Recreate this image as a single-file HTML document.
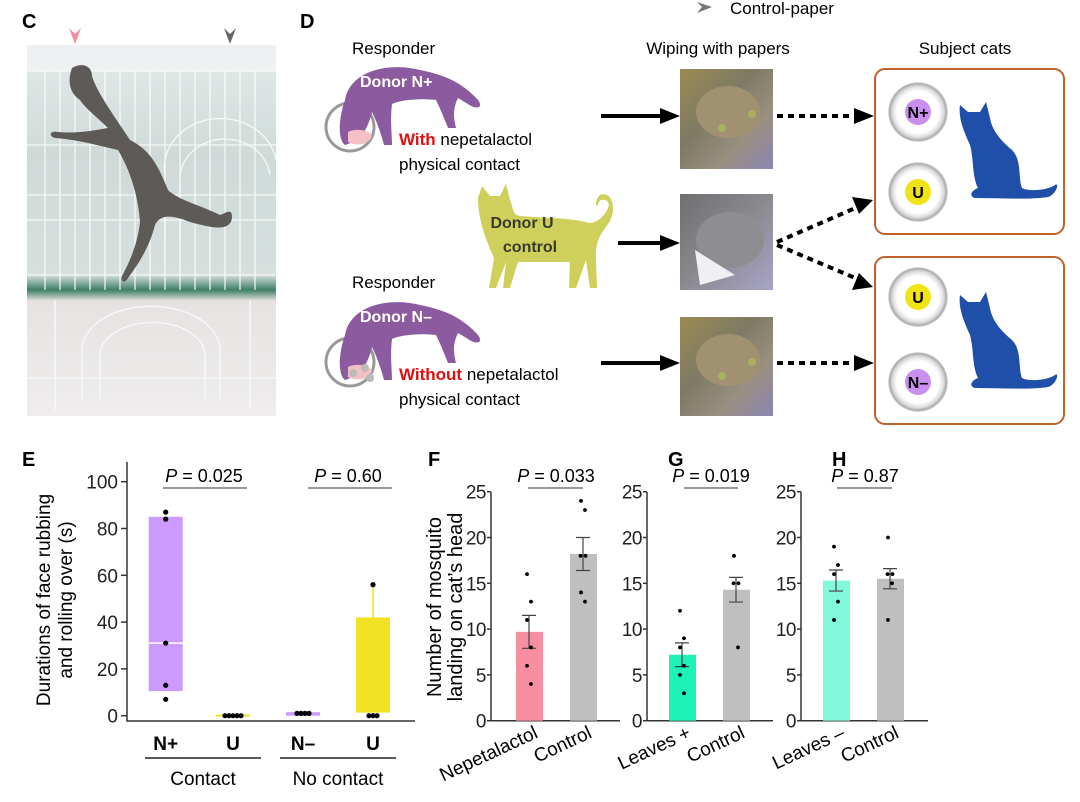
<!DOCTYPE html>
<html><head><meta charset="utf-8">
<style>
body{margin:0;background:#fff;}
svg{display:block;font-family:"Liberation Sans",Arial,sans-serif;}
</style></head>
<body>
<svg id="fig" width="1080" height="802" viewBox="0 0 1080 802" xmlns="http://www.w3.org/2000/svg">
<defs>
<linearGradient id="cageg" x1="0" y1="0" x2="0" y2="1">
<stop offset="0" stop-color="#e4ebea"/><stop offset="0.3" stop-color="#cfdad8"/><stop offset="0.62" stop-color="#d6dfdd"/><stop offset="0.66" stop-color="#3f7e66"/><stop offset="0.69" stop-color="#e6e2e2"/><stop offset="1" stop-color="#efeded"/>
</linearGradient>
<radialGradient id="dish"><stop offset="0.7" stop-color="#fff"/><stop offset="0.85" stop-color="#ddd"/><stop offset="0.95" stop-color="#aaa"/><stop offset="1" stop-color="#eee"/></radialGradient>
<linearGradient id="photoA" x1="0" y1="0" x2="1" y2="1"><stop offset="0" stop-color="#9c8a52"/><stop offset="0.4" stop-color="#7d7a64"/><stop offset="0.7" stop-color="#9a8f80"/><stop offset="1" stop-color="#8a86b8"/></linearGradient>
<linearGradient id="photoB" x1="0" y1="0" x2="1" y2="1"><stop offset="0" stop-color="#6f6f72"/><stop offset="0.5" stop-color="#8a8a8e"/><stop offset="1" stop-color="#a8a4c8"/></linearGradient>
</defs>

<!-- Panel C -->
<text x="22" y="28" font-size="20" font-weight="bold">C</text>
<g>
<rect x="27" y="45" width="249" height="371" fill="url(#cageg)"/>
<rect x="27" y="45" width="249" height="26" fill="#eef1f1"/>
<g stroke="#fbfbfb" stroke-width="1.3" opacity="0.9">
<line x1="27" y1="71" x2="276" y2="71"/><line x1="27" y1="145" x2="276" y2="145"/><line x1="27" y1="195" x2="276" y2="195"/><line x1="27" y1="220" x2="276" y2="220"/><line x1="27" y1="275" x2="276" y2="275"/><line x1="27" y1="378" x2="276" y2="378"/>
<line x1="45" y1="71" x2="45" y2="290"/><line x1="60" y1="71" x2="60" y2="290"/><line x1="75" y1="71" x2="75" y2="290"/><line x1="90" y1="71" x2="90" y2="290"/><line x1="105" y1="71" x2="105" y2="290"/><line x1="120" y1="71" x2="120" y2="290"/><line x1="135" y1="71" x2="135" y2="290"/><line x1="150" y1="71" x2="150" y2="290"/><line x1="165" y1="71" x2="165" y2="290"/><line x1="180" y1="71" x2="180" y2="290"/><line x1="195" y1="71" x2="195" y2="290"/><line x1="210" y1="71" x2="210" y2="290"/><line x1="225" y1="71" x2="225" y2="290"/><line x1="240" y1="71" x2="240" y2="290"/><line x1="255" y1="71" x2="255" y2="290"/>
<path d="M165 270 V175 A55 48 0 0 1 276 160" fill="none"/><path d="M180 270 V185 A42 38 0 0 1 270 175" fill="none"/>
<path d="M82 400 V350 A60 38 0 0 1 220 350 V400" fill="none"/><path d="M100 400 V355 A42 26 0 0 1 205 355 V400" fill="none"/>
<line x1="55" y1="300" x2="55" y2="410"/><line x1="250" y1="300" x2="250" y2="410"/>
</g>
<path d="M72 68 C82 62 92 66 92 76 C96 90 110 110 130 140 C150 150 158 165 168 190 C178 200 200 205 220 215 C228 212 232 208 232 218 C230 232 212 228 190 222 C170 214 160 215 155 225 C150 245 140 262 128 278 C125 284 120 282 122 276 C132 258 138 240 140 222 C138 195 130 170 118 150 C100 146 80 140 55 138 C48 136 50 130 58 132 C78 134 96 130 108 128 C98 118 85 108 80 100 C72 95 66 84 72 68 Z" fill="#5e5a58"/>
<path d="M69 8 L75 14 L81 8 L75 24 Z" transform="translate(0,20)" fill="#f58b98"/>
<path d="M224 8 L230 14 L236 8 L230 24 Z" transform="translate(0,20)" fill="#666"/>
</g>

<!-- Panel D -->
<text x="300" y="28" font-size="20" font-weight="bold">D</text>
<path d="M697 2 L712 7 L697 13 L702 7 Z" fill="#777"/>
<text x="730" y="14" font-size="17">Control-paper</text>
<text x="352" y="54" font-size="17">Responder</text>
<text x="718" y="54" font-size="17" text-anchor="middle">Wiping with papers</text>
<text x="965" y="54" font-size="17" text-anchor="middle">Subject cats</text>

<g>
<circle cx="350" cy="127" r="24" fill="#fff" stroke="#999" stroke-width="3"/>
<path d="M345 100 C350 70 390 62 420 70 C440 74 460 80 478 100 C484 108 476 110 468 104 L458 98 C452 110 454 120 456 128 L448 128 C444 118 440 108 436 100 C420 98 400 100 392 104 C390 120 392 135 392 145 L384 145 C380 130 376 120 372 112 C368 128 362 140 345 145 C338 140 338 120 345 100 Z" fill="#8c5a9e"/>
<path d="M348 132 C355 128 370 130 372 136 C368 146 355 146 348 142 Z" fill="#f4c0c8"/>
<text x="360" y="87" font-size="16" font-weight="bold" fill="#fff">Donor N+</text>
</g>
<text x="399" y="145" font-size="17"><tspan fill="#e01010" font-weight="bold">With</tspan> nepetalactol</text>
<text x="399" y="170" font-size="17">physical contact</text>

<g>
<path d="M478 198 L482 186 L490 196 L500 196 L506 184 L510 200 C514 210 512 214 520 216 C545 218 570 218 585 222 C596 226 605 215 608 208 C612 200 600 196 598 204 C596 210 594 200 600 195 C612 190 618 210 608 224 C600 236 595 240 596 262 L597 288 L590 288 L586 260 L576 288 L569 288 L570 262 C555 262 530 262 518 262 L510 288 L503 288 L506 262 L496 288 L489 288 L494 258 C486 240 478 220 478 198 Z" fill="#cfcf5c"/>
<text x="522" y="228" font-size="16" font-weight="bold" fill="#3a3a2a" text-anchor="middle">Donor U</text>
<text x="530" y="252" font-size="16" font-weight="bold" fill="#3a3a2a" text-anchor="middle">control</text>
</g>
<text x="352" y="288" font-size="17">Responder</text>
<g transform="translate(0,235)">
<circle cx="350" cy="127" r="24" fill="#fff" stroke="#999" stroke-width="3"/>
<path d="M345 100 C350 70 390 62 420 70 C440 74 460 80 478 100 C484 108 476 110 468 104 L458 98 C452 110 454 120 456 128 L448 128 C444 118 440 108 436 100 C420 98 400 100 392 104 C390 120 392 135 392 145 L384 145 C380 130 376 120 372 112 C368 128 362 140 345 145 C338 140 338 120 345 100 Z" fill="#8c5a9e"/>
<path d="M348 132 C355 128 370 130 372 136 C368 146 355 146 348 142 Z" fill="#f4c0c8"/>
<circle cx="353" cy="138" r="4" fill="#bbb"/><circle cx="365" cy="133" r="4" fill="#bbb"/><circle cx="370" cy="143" r="4" fill="#bbb"/>
<text x="360" y="87" font-size="16" font-weight="bold" fill="#fff">Donor N–</text>
</g>
<text x="399" y="380" font-size="17"><tspan fill="#e01010" font-weight="bold">Without</tspan> nepetalactol</text>
<text x="399" y="405" font-size="17">physical contact</text>

<g fill="#000">
<rect x="601" y="114" width="62" height="4"/><path d="M660 108 L680 116 L660 124 Z"/>
<rect x="618" y="241" width="45" height="4"/><path d="M660 235 L680 243 L660 251 Z"/>
<rect x="601" y="361" width="62" height="4"/><path d="M660 355 L680 363 L660 371 Z"/>
</g>
<g>
<rect x="680" y="69" width="93" height="100" fill="url(#photoA)"/>
<ellipse cx="728" cy="112" rx="32" ry="26" fill="#a09270"/><circle cx="722" cy="128" r="4" fill="#a8b060"/><circle cx="752" cy="114" r="4" fill="#a8b060"/>
<rect x="680" y="194" width="93" height="96" fill="url(#photoB)"/>
<ellipse cx="730" cy="240" rx="34" ry="28" fill="#8e8e92"/><path d="M695 250 L735 275 L700 285 Z" fill="#f0f0f4"/>
<rect x="680" y="317" width="93" height="99" fill="url(#photoA)"/>
<ellipse cx="728" cy="360" rx="32" ry="26" fill="#a09270"/><circle cx="722" cy="376" r="4" fill="#a8b060"/><circle cx="752" cy="362" r="4" fill="#a8b060"/>
</g>
<g stroke="#000" stroke-width="4" stroke-dasharray="6 5" fill="none">
<line x1="777" y1="116" x2="858" y2="116"/><line x1="777" y1="242" x2="860" y2="206"/><line x1="777" y1="245" x2="860" y2="280"/><line x1="777" y1="363" x2="858" y2="363"/>
</g>
<g fill="#000">
<path d="M854 108 L874 116 L854 124 Z"/><path d="M852 197 L873 200 L859 214 Z"/><path d="M852 290 L873 287 L859 273 Z"/><path d="M854 355 L874 363 L854 371 Z"/>
</g>
<g>
<rect x="875" y="69" width="189" height="165" rx="10" fill="#fff" stroke="#c0622a" stroke-width="2"/>
<circle cx="918" cy="112" r="30" fill="url(#dish)"/><circle cx="918" cy="112" r="13" fill="#c88ef0"/><text x="918" y="118" font-size="16" font-weight="bold" text-anchor="middle">N+</text>
<circle cx="918" cy="192" r="30" fill="url(#dish)"/><circle cx="918" cy="192" r="13" fill="#f0e418"/><text x="918" y="198" font-size="16" font-weight="bold" text-anchor="middle">U</text>
<path d="M960 105 L968 112 L980 112 L986 102 L990 118 C992 130 1000 140 1012 150 C1022 160 1018 178 1022 188 C1030 192 1048 190 1055 185 C1060 182 1056 195 1048 197 C1030 200 1000 198 975 198 C968 196 972 190 978 188 C972 176 974 160 970 145 C964 132 958 118 960 105 Z" fill="#1f4fa8"/>
</g>
<g>
<rect x="875" y="257" width="189" height="167" rx="10" fill="#fff" stroke="#c0622a" stroke-width="2"/>
<circle cx="918" cy="297" r="30" fill="url(#dish)"/><circle cx="918" cy="297" r="13" fill="#f0e418"/><text x="918" y="303" font-size="16" font-weight="bold" text-anchor="middle">U</text>
<circle cx="918" cy="382" r="30" fill="url(#dish)"/><circle cx="918" cy="382" r="13" fill="#c88ef0"/><text x="918" y="388" font-size="16" font-weight="bold" text-anchor="middle">N–</text>
<path d="M960 295 L968 302 L980 302 L986 292 L990 308 C992 320 1000 330 1012 340 C1022 350 1018 368 1022 378 C1030 382 1048 380 1055 375 C1060 372 1056 385 1048 387 C1030 390 1000 388 975 388 C968 386 972 380 978 378 C972 366 974 350 970 335 C964 322 958 308 960 295 Z" fill="#1f4fa8"/>
</g>

<g id="charts"></g>
</svg>

<script>
// ---- Panel E data ----
const eCategories = ["N+", "U", "N–", "U"];
const eQ1 = [10.5, 0, 0, 1];
const eMedian = [31, 0, 0.5, 1];
const eQ3 = [85, 0.5, 1.5, 42];
const eWhiskerHigh = [85, 0.5, 1.5, 56];
const ePoints = [[87, 84, 31, 13, 7], [0, 0, 0, 0, 0], [1, 1, 1, 1], [0, 0, 0, 56]];
const eTicks = [0, 20, 40, 60, 80, 100];
const eColors = ["#cc99ff", "#f2e224", "#cc99ff", "#f2e224"];

// ---- Panels F/G/H data ----
const fCategories = ["Nepetalactol", "Control"];
const fMeans = [9.7, 18.2];
const fSem = [1.8, 1.8];
const fPoints = [[16, 13, 11, 8, 6, 4], [24, 23, 18, 18, 14, 13]];
const gCategories = ["Leaves +", "Control"];
const gMeans = [7.2, 14.3];
const gSem = [1.3, 1.35];
const gPoints = [[12, 9, 8, 6, 5, 3], [18, 15, 15, 8]];
const hCategories = ["Leaves –", "Control"];
const hMeans = [15.3, 15.5];
const hSem = [1.15, 1.1];
const hPoints = [[19, 17, 16, 13, 11], [20, 16, 16, 15, 11]];
const barTicks = [0, 5, 10, 15, 20, 25];
const pLabels = ["0.025", "0.60", "0.033", "0.019", "0.87"];

const NS = "http://www.w3.org/2000/svg";
const root = document.getElementById("charts");
function mk(tag, attrs, parent, text) {
  const el = document.createElementNS(NS, tag);
  for (const k in attrs) el.setAttribute(k, attrs[k]);
  if (text !== undefined) el.textContent = text;
  (parent || root).appendChild(el);
  return el;
}
function pText(x, y, val, parent) {
  const t = mk("text", {x: x, y: y, "font-size": 18, "text-anchor": "middle"}, parent);
  const a = document.createElementNS(NS, "tspan"); a.setAttribute("font-style", "italic"); a.textContent = "P"; t.appendChild(a);
  const b = document.createElementNS(NS, "tspan"); b.textContent = " = " + val; t.appendChild(b);
  return t;
}

// ---- Panel E ----
(function () {
  const g = mk("g", {});
  
  
  const lbl = mk("text", {x: 22, y: 466, "font-size": 20, "font-weight": "bold"}, g, "E");
  
  
  const y0 = 715.7, k = 2.34;
  const y = v => y0 - v * k;
  const xs = [165.7, 233, 303, 373];
  const bw = 34;
  const ax = mk("path", {d: "M127 462 V721 H415", stroke: "#333", "stroke-width": 1.5, fill: "none"}, g);
  
  
  eTicks.forEach(t => {
    mk("line", {x1: 121, x2: 127, y1: y(t), y2: y(t), stroke: "#333", "stroke-width": 1.5}, g);
    const tl = mk("text", {x: 118, y: y(t) + 7, "font-size": 19, "text-anchor": "end", fill: "#222"}, g, t);
    
    
  });
  eCategories.forEach((c, i) => {
    const x = xs[i];
    mk("line", {x1: x, x2: x, y1: y(eQ3[i]), y2: y(eWhiskerHigh[i]), stroke: eColors[i], "stroke-width": 1.5}, g);
    const h = Math.max(2, y(eQ1[i]) - y(eQ3[i]));
    const box = mk("rect", {x: x - bw / 2, y: y(eQ3[i]), width: bw, height: h, fill: eColors[i]}, g);
    
    
    if (eQ3[i] - eQ1[i] > 5) mk("line", {x1: x - bw / 2, x2: x + bw / 2, y1: y(eMedian[i]), y2: y(eMedian[i]), stroke: "#fff", "stroke-width": 1.5}, g);
    const pts = ePoints[i];
    const counts = {};
    pts.forEach(v => { counts[v] = (counts[v] || 0) + 1; });
    const seen = {};
    pts.forEach(v => {
      const n = counts[v]; const j = (seen[v] = (seen[v] || 0) + 1) - 1;
      const dx = n > 1 ? (j - (n - 1) / 2) * 4 : 0;
      const dot = mk("circle", {cx: x + dx, cy: y(v), r: 2.6, fill: "#000"}, g);
      
      
    });
    const cl = mk("text", {x: x, y: 750, "font-size": 19, "font-weight": "bold", "text-anchor": "middle"}, g, c);
    
    
  });
  mk("line", {x1: 145, x2: 261, y1: 758, y2: 758, stroke: "#222", "stroke-width": 1.5}, g);
  mk("line", {x1: 280, x2: 396, y1: 758, y2: 758, stroke: "#222", "stroke-width": 1.5}, g);
  const c1 = mk("text", {x: 203, y: 785, "font-size": 19, "text-anchor": "middle"}, g, "Contact");
  
  
  const c2 = mk("text", {x: 338, y: 785, "font-size": 19, "text-anchor": "middle"}, g, "No contact");
  
  
  const p1 = pText(204, 482, pLabels[0], g);
  
  
  mk("line", {x1: 163, x2: 247, y1: 488, y2: 488, stroke: "#777", "stroke-width": 1.5}, g);
  const p2 = pText(348, 482, pLabels[1], g);
  
  
  mk("line", {x1: 308, x2: 392, y1: 488, y2: 488, stroke: "#777", "stroke-width": 1.5}, g);
  const yt = mk("text", {transform: "translate(50,600) rotate(-90)", "font-size": 19, "text-anchor": "middle"}, g, "Durations of face rubbing");
  
  
  const yt2 = mk("text", {transform: "translate(72,600) rotate(-90)", "font-size": 19, "text-anchor": "middle"}, g, "and rolling over (s)");
  
  
})();

// ---- Bar panels ----
function barPanel(name, letter, lx, axX, axEnd, xs, cats, means, sem, points, colors, pVal, pX, lineX) {
  const g = mk("g", {});
  
  
  const l = mk("text", {x: lx, y: 466, "font-size": 20, "font-weight": "bold"}, g, letter);
  
  
  const y0 = 720.7, k = 9.16;
  const y = v => y0 - v * k;
  const ax = mk("path", {d: "M" + axX + " 492 V" + y0 + " H" + axEnd, stroke: "#333", "stroke-width": 1.5, fill: "none"}, g);
  
  
  barTicks.forEach(t => {
    mk("line", {x1: axX - 4, x2: axX, y1: y(t), y2: y(t), stroke: "#333", "stroke-width": 1.5}, g);
    const tl = mk("text", {x: axX - 5, y: y(t) + 7, "font-size": 19, "text-anchor": "end", fill: "#222", "letter-spacing": "-0.5"}, g, t);
    
    
  });
  cats.forEach((c, i) => {
    const x = xs[i];
    const bar = mk("rect", {x: x - 13, y: y(means[i]), width: 27, height: y0 - y(means[i]), fill: colors[i]}, g);
    
    
    const hi = y(means[i] + sem[i]), lo = y(means[i] - sem[i]);
    mk("path", {d: "M" + x + " " + hi + " V" + lo + " M" + (x - 7) + " " + hi + " H" + (x + 7) + " M" + (x - 7) + " " + lo + " H" + (x + 7), stroke: "#444", "stroke-width": 1.2, fill: "none"}, g);
    const counts = {}; points[i].forEach(v => { counts[v] = (counts[v] || 0) + 1; });
    const seen = {};
    points[i].forEach((v, j) => {
      const n = counts[v]; const s = (seen[v] = (seen[v] || 0) + 1) - 1;
      const dx = n > 1 ? (s - (n - 1) / 2) * 5 : ((j % 2) ? 2 : -2);
      const d = mk("circle", {cx: x + dx, cy: y(v), r: 1.9, fill: "#000"}, g);
      
      
    });
    const cl = mk("text", {transform: "translate(" + (x + 10) + ",737) rotate(-25)", "font-size": 19, "text-anchor": "end"}, g, c);
    
    
  });
  const p = pText(pX, 482, pVal, g);
  
  
  mk("line", {x1: lineX[0], x2: lineX[1], y1: 488, y2: 488, stroke: "#777", "stroke-width": 1.5}, g);
}
barPanel("chart-f", "F", 428, 491, 620, [529, 583], fCategories, fMeans, fSem, fPoints, ["#f78fa0", "#bfbfbf"], pLabels[2], 556, [528, 583]);
barPanel("chart-g", "G", 668, 647, 773, [682, 736], gCategories, gMeans, gSem, gPoints, ["#1ff2b6", "#bfbfbf"], pLabels[3], 711, [684, 738]);
barPanel("chart-h", "H", 832, 801, 928, [836, 890], hCategories, hMeans, hSem, hPoints, ["#82f9da", "#bfbfbf"], pLabels[4], 865, [837, 892]);
(function () {
  const t1 = mk("text", {transform: "translate(441,607) rotate(-90)", "font-size": 20, "text-anchor": "middle"}, root, "Number of mosquito");
  
  
  const t2 = mk("text", {transform: "translate(462,607) rotate(-90)", "font-size": 20, "text-anchor": "middle"}, root, "landing on cat\u2019s head");
  
  
})();
</script>
</body></html>
